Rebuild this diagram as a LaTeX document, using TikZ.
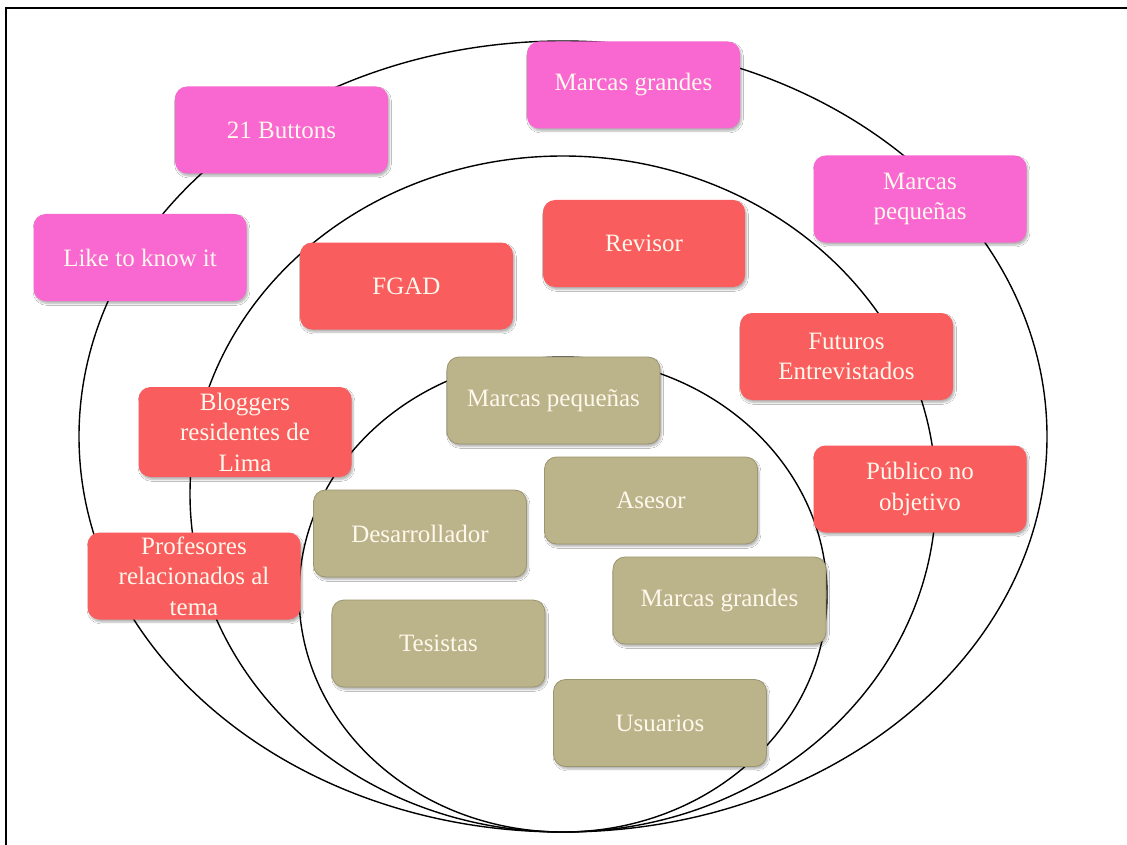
\documentclass[tikz,border=0pt]{standalone}
\usepackage{fontspec}
\setmainfont{Liberation Serif}
\usetikzlibrary{shadows.blur}
\definecolor{pinkc}{HTML}{F967D0}
\definecolor{redc}{HTML}{F95D5D}
\definecolor{tanc}{HTML}{BBB38A}
\definecolor{tanedge}{HTML}{9C966E}
\definecolor{txtc}{HTML}{FFF8EC}
\begin{document}
\begin{tikzpicture}[x=1pt,y=-1pt,
  box/.style={rounded corners=12pt, minimum width=213pt, minimum height=87pt,
    align=center, text=txtc, font=\fontsize{25}{30.5}\selectfont, inner sep=2pt,
    blur shadow={shadow xshift=1.5pt, shadow yshift=-2.5pt, shadow blur steps=6, shadow opacity=30}},
  pinkbox/.style={box, fill=pinkc},
  redbox/.style={box, fill=redc},
  tanbox/.style={box, fill=tanc, draw=tanedge, line width=0.8pt},
  ring/.style={draw=black, line width=1.4pt},
  frame/.style={draw=black, line width=2pt}]
\useasboundingbox (0,0) rectangle (1127,845);
\fill[white] (0,0) rectangle (1127,845);
\draw[frame] (6,850) -- (6,8) -- (1130,8);
% rings
\draw[ring] (563,436.5) ellipse [x radius=484pt, y radius=395.5pt];
\draw[ring] (563,494) ellipse [x radius=373pt, y radius=338pt];
\draw[ring] (563,594.5) ellipse [x radius=264pt, y radius=237.5pt];
% outer ring boxes
\node[pinkbox] (b21)  at (281.5,130) {21 Buttons};
\node[pinkbox] (like) at (140,257.5) {Like to know it};
\node[pinkbox] (mgp)  at (633.5,85) {Marcas grandes};
\node[pinkbox] (mpp)  at (920,199) {Marcas\\peque\~nas};
% middle ring boxes
\node[redbox] (fgad) at (406.5,286) {FGAD};
\node[redbox, minimum width=202pt] (rev) at (644,243.5) {Revisor};
\node[redbox] (fut)  at (846.5,356.5) {Futuros\\Entrevistados};
\node[redbox, minimum height=90pt] (blog) at (245,432) {Bloggers\\residentes de\\Lima};
\node[redbox] (prof) at (194,576) {Profesores\\relacionados al\\tema};
\node[redbox] (pub)  at (920,489) {Público no\\objetivo};
% inner ring boxes
\node[tanbox] (mpt)  at (553.5,400.5) {Marcas pequeñas};
\node[tanbox] (ases) at (651,500.5) {Asesor};
\node[tanbox] (des)  at (420,533.5) {Desarrollador};
\node[tanbox] (mgt)  at (719.5,600.5) {Marcas grandes};
\node[tanbox] (tes)  at (438.5,643.5) {Tesistas};
\node[tanbox] (usu)  at (660,723) {Usuarios};
\end{tikzpicture}
\end{document}
